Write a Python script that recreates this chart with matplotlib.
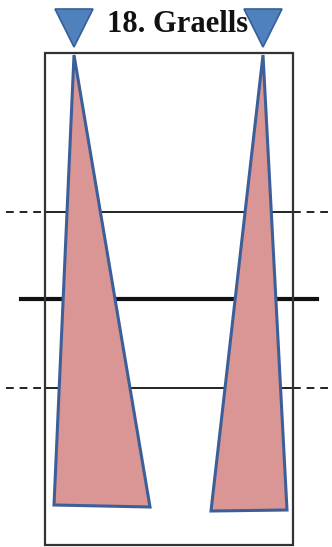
import matplotlib; matplotlib.use("Agg")
import matplotlib.pyplot as plt
from matplotlib.patches import Polygon, Rectangle

# diagram geometry in picture pixels (y grows downward)
TITLE = "18. Graells"
box = (45, 53, 293, 545)                      # x0, y0, x1, y1
tri_left = [(74, 55), (54, 505), (150, 507)]
tri_right = [(263, 55), (211, 511), (287, 510)]
marker_x = [74, 263]
marker_top, marker_tip, marker_halfw = 9, 47, 19
dashed_y = [212, 388]
mid_y = 299
mid_x = (21, 317)

PINK = "#d99694"; EDGE = "#3c5f99"; MBLUE = "#4f81bd"

fig = plt.figure(figsize=(3.32, 5.47), dpi=100)
ax = fig.add_axes([0, 0, 1, 1])
ax.set_xlim(0, 332); ax.set_ylim(547, 0); ax.axis("off")

# horizontal reference lines (dashed outside the box, solid inside)
for y in dashed_y:
    ax.plot([6, box[0]], [y, y], "--", color="#222222", lw=1.4, dashes=(4, 3), zorder=1)
    ax.plot([box[2], 332], [y, y], "--", color="#222222", lw=1.4, dashes=(4, 3), zorder=1)
    ax.plot([box[0], box[2]], [y, y], "-", color="#222222", lw=1.4, zorder=1)
ax.plot(mid_x, [mid_y, mid_y], "-", color="#111111", lw=3.0, zorder=1)

ax.add_patch(Rectangle((box[0], box[1]), box[2]-box[0], box[3]-box[1],
                       fill=False, ec="#333333", lw=1.6, zorder=2))

for tri in (tri_left, tri_right):
    ax.add_patch(Polygon(tri, closed=True, fc=PINK, ec=EDGE, lw=2.2, zorder=3, joinstyle="miter"))

ax.text(178, 24, TITLE, ha="center", va="center", fontsize=22, fontweight="bold",
        family="Liberation Serif", color="#111111", zorder=4)

# markers sit on top of the title
for x in marker_x:
    ax.add_patch(Polygon([(x-marker_halfw, marker_top), (x+marker_halfw, marker_top), (x, marker_tip)],
                         closed=True, fc=MBLUE, ec="#355f99", lw=1.2, zorder=5))

plt.savefig("out.png", dpi=100)
